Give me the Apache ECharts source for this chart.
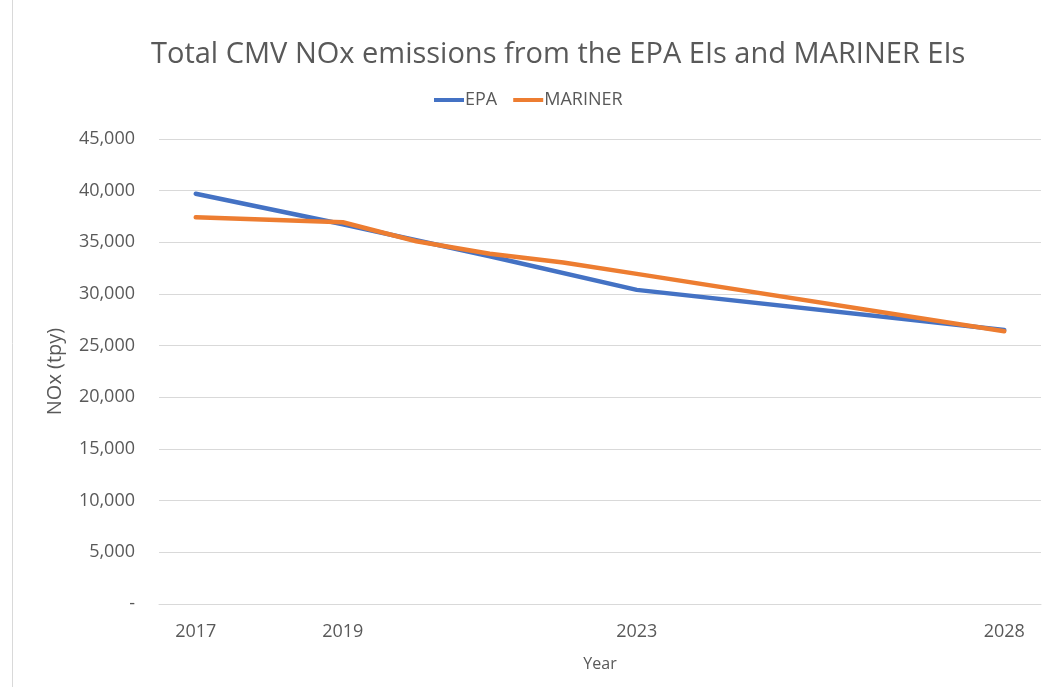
<!DOCTYPE html>
<html>
<head>
<meta charset="utf-8">
<script src="https://cdn.jsdelivr.net/npm/echarts@6/dist/echarts.min.js"></script>
<style>
  html, body { margin: 0; padding: 0; background: #fff; }
  #chart { width: 1052px; height: 687px; }
</style>
</head>
<body>
<div id="chart"></div>
<script>
// years on the category axis, only some of them get a label
const years = ["2017", "2018", "2019", "2020", "2021", "2022", "2023", "2024", "2025", "2026", "2027", "2028"];
const labeledYears = ["2017", "2019", "2023", "2028"];

// values (null = no point, line is joined across)
const epa = [39700, null, 36750, null, 33650, null, 30400, null, null, null, null, 26520];
const mariner = [37420, null, 36940, 35100, 33900, 33050, 31950, null, null, null, null, 26400];

const chart = echarts.init(document.getElementById("chart"));
const font = "'Open Sans', sans-serif";

const fmt = (v) => (v === 0 ? "-" : v.toLocaleString("en-US"));

chart.setOption({
  animation: false,
  textStyle: { fontFamily: font },
  title: {
    text: "Total CMV NOx emissions from the EPA EIs and MARINER EIs",
    left: 146,
    top: 35,
    textStyle: { fontSize: 29, fontWeight: "normal", color: "#595959", fontFamily: font },
  },
  legend: {
    top: 86,
    left: 429,
    itemWidth: 30,
    itemHeight: 4,
    itemGap: 16,
    icon: "rect",
    textStyle: { fontSize: 18, color: "#595959", fontFamily: font, padding: [0, 0, 0, -4] },
    data: ["EPA", "MARINER"],
  },
  graphic: [
    {
      type: "line",
      shape: { x1: 12.5, y1: 0, x2: 12.5, y2: 687 },
      style: { stroke: "#d9d9d9", lineWidth: 1 },
    },
  ],
  grid: { left: 159, right: 11, top: 139, bottom: 83 },
  xAxis: {
    type: "category",
    data: years,
    boundaryGap: true,
    name: "Year",
    nameLocation: "middle",
    nameGap: 52,
    nameTextStyle: { fontSize: 16, color: "#595959" },
    axisLine: { lineStyle: { color: "#d9d9d9", width: 1 } },
    axisTick: { show: false },
    axisLabel: {
      interval: 0,
      margin: 19,
      fontSize: 18,
      color: "#595959",
      formatter: (v) => (labeledYears.includes(v) ? v : ""),
    },
  },
  yAxis: {
    type: "value",
    min: 0,
    max: 45000,
    interval: 5000,
    name: "NOx (tpy)",
    nameLocation: "middle",
    nameGap: 94,
    nameTextStyle: { fontSize: 20, color: "#595959" },
    axisLine: { show: false },
    axisTick: { show: false },
    axisLabel: { margin: 24, fontSize: 18, color: "#595959", formatter: fmt },
    splitLine: { lineStyle: { color: "#d9d9d9", width: 1 } },
  },
  series: [
    {
      name: "EPA",
      type: "line",
      data: epa,
      connectNulls: true,
      symbol: "none",
      color: "#4472C4",
      lineStyle: { width: 4.5, color: "#4472C4", cap: "round" },
    },
    {
      name: "MARINER",
      type: "line",
      data: mariner,
      connectNulls: true,
      symbol: "none",
      color: "#ED7D31",
      lineStyle: { width: 4.5, color: "#ED7D31", cap: "round" },
    },
  ],
});
</script>
</body>
</html>
